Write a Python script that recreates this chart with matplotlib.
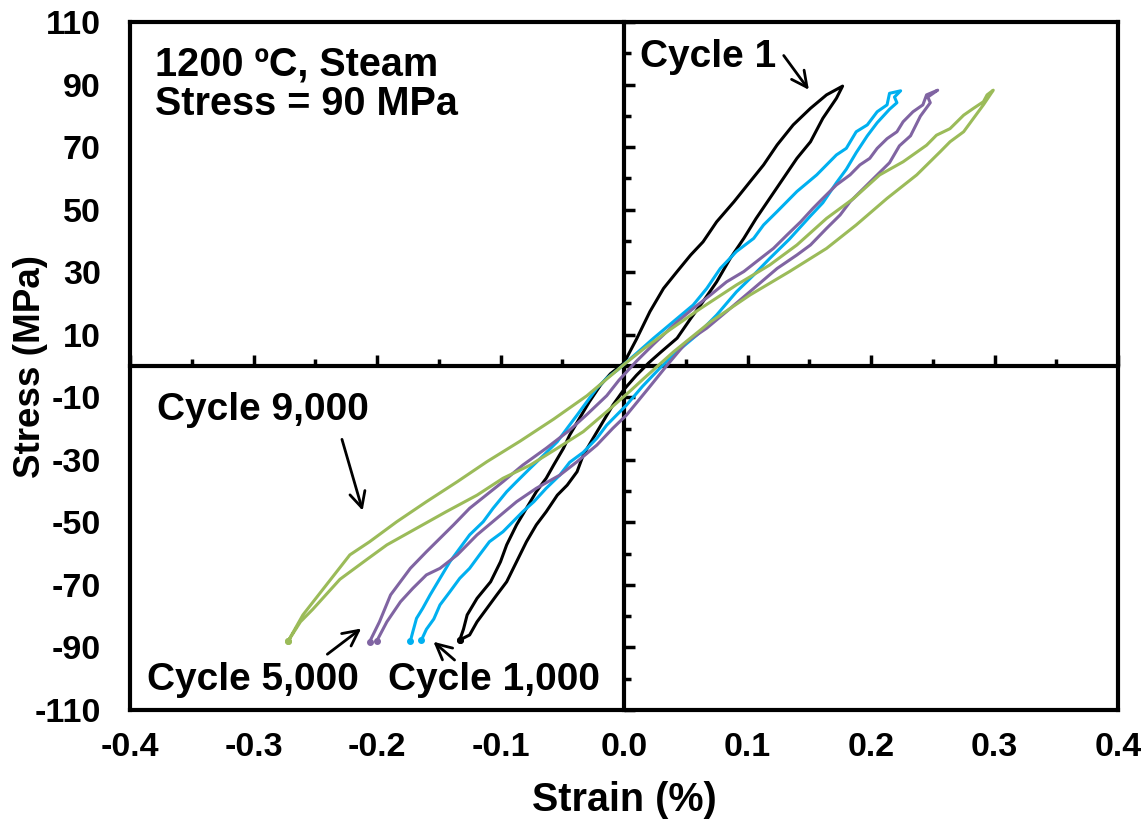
import numpy as np
import matplotlib
matplotlib.use("Agg")
import matplotlib.pyplot as plt
from matplotlib.ticker import MultipleLocator

plt.rcParams['font.family'] = ['Liberation Sans', 'DejaVu Sans']
plt.rcParams['font.weight'] = 'bold'
plt.rcParams['axes.unicode_minus'] = False

# Cycle 1 (black): loading branch bottom->top, then unloading top->bottom
c1_up_x = [-0.133, -0.125, -0.119, -0.111, -0.103, -0.095, -0.087, -0.079, -0.071, -0.063, -0.054, -0.046,
           -0.038, -0.033, -0.025, -0.017, -0.009, 0.000, 0.010, 0.020, 0.030, 0.043, 0.054, 0.064, 0.075,
           0.086, 0.097, 0.107, 0.118, 0.129, 0.140, 0.151, 0.161, 0.172, 0.177]
c1_up_y = [-87.6, -86.0, -81.8, -77.5, -73.2, -69.0, -62.6, -56.2, -50.8, -46.6, -41.3, -38.1,
           -33.8, -28.5, -23.1, -17.8, -12.5, -7.5, -3.0, 1.0, 4.5, 8.9, 15.2, 20.6, 26.9,
           34.4, 40.8, 47.2, 53.6, 60.0, 66.4, 71.7, 79.2, 85.6, 89.5]
c1_dn_x = [0.177, 0.164, 0.151, 0.137, 0.124, 0.113, 0.102, 0.089, 0.075, 0.064, 0.054, 0.043, 0.032,
           0.021, 0.010, 0.000, -0.011, -0.019, -0.028, -0.036, -0.044, -0.049, -0.057, -0.063, -0.071,
           -0.079, -0.087, -0.095, -0.100, -0.108, -0.119, -0.127, -0.130, -0.133]
c1_dn_y = [89.5, 86.7, 82.4, 77.1, 70.7, 64.3, 58.9, 52.5, 46.1, 39.7, 35.5, 30.2, 24.8,
           17.4, 8.5, 1.0, -2.5, -6.1, -11.4, -16.7, -22.1, -26.3, -31.7, -35.9, -40.2,
           -45.5, -50.8, -57.2, -62.6, -69.0, -74.3, -79.6, -84.2, -87.6]

# Cycle 1,000 (blue)
c1k_up_x = [-0.164, -0.160, -0.154, -0.149, -0.141, -0.133, -0.125, -0.117, -0.109, -0.098, -0.090, -0.082,
            -0.073, -0.063, -0.052, -0.044, -0.033, -0.022, -0.014, -0.006, 0.002, 0.015, 0.029, 0.043,
            0.059, 0.075, 0.091, 0.105, 0.118, 0.134, 0.151, 0.161, 0.172, 0.180, 0.188, 0.197, 0.205,
            0.215, 0.221, 0.219, 0.224]
c1k_up_y = [-87.6, -84.2, -80.9, -76.4, -72.2, -67.9, -64.7, -60.4, -56.2, -53.0, -49.8, -46.6,
            -43.4, -39.1, -34.9, -30.8, -27.6, -23.1, -18.9, -15.7, -12.5, -6.5, -0.7, 4.6,
            9.9, 16.3, 23.7, 29.1, 34.4, 40.6, 48.0, 52.2, 58.6, 62.9, 68.2, 73.6, 77.8,
            82.1, 84.2, 86.0, 88.0]
c1k_dn_x = [0.224, 0.215, 0.213, 0.205, 0.197, 0.188, 0.180, 0.172, 0.156, 0.140, 0.124, 0.113, 0.105,
            0.091, 0.078, 0.067, 0.056, 0.043, 0.024, 0.010, -0.005, -0.014, -0.022, -0.030, -0.038,
            -0.046, -0.054, -0.065, -0.076, -0.087, -0.095, -0.106, -0.114, -0.125, -0.133, -0.141,
            -0.149, -0.157, -0.163, -0.168, -0.171, -0.173]
c1k_dn_y = [88.0, 87.2, 83.5, 81.3, 77.1, 74.9, 69.6, 67.5, 61.1, 55.8, 49.4, 45.1, 40.8,
            36.6, 31.2, 24.8, 19.5, 15.2, 8.9, 4.0, -1.2, -3.9, -7.1, -11.4, -15.7,
            -19.9, -24.2, -28.5, -32.7, -37.0, -40.2, -45.5, -49.8, -54.0, -58.3, -62.6,
            -67.9, -73.2, -77.5, -80.7, -85.0, -88.0]

# Cycle 5,000 (purple)
c5k_up_x = [-0.200, -0.192, -0.181, -0.171, -0.160, -0.149, -0.135, -0.119, -0.103, -0.087, -0.071, -0.052,
            -0.038, -0.022, -0.009, 0.002, 0.018, 0.035, 0.051, 0.067, 0.083, 0.105, 0.124, 0.140,
            0.151, 0.164, 0.175, 0.183, 0.194, 0.205, 0.215, 0.223, 0.232, 0.240, 0.248, 0.246, 0.254]
c5k_up_y = [-87.8, -81.8, -75.4, -71.1, -66.8, -64.7, -60.4, -54.0, -48.7, -43.4, -39.1, -34.9,
            -30.6, -25.3, -19.9, -15.7, -8.0, 0.3, 7.8, 12.1, 17.4, 24.8, 31.2, 35.5,
            38.7, 44.0, 48.3, 52.5, 56.8, 61.1, 65.0, 70.4, 73.6, 79.9, 84.2, 86.0, 88.2]
c5k_dn_x = [0.254, 0.245, 0.242, 0.234, 0.226, 0.221, 0.213, 0.205, 0.199, 0.191, 0.183, 0.172, 0.161,
            0.153, 0.143, 0.132, 0.121, 0.107, 0.097, 0.083, 0.070, 0.056, 0.043, 0.024, 0.010,
            -0.004, -0.014, -0.030, -0.044, -0.063, -0.082, -0.098, -0.125, -0.138, -0.160, -0.173,
            -0.189, -0.198, -0.206]
c5k_dn_y = [88.2, 86.7, 83.5, 81.3, 78.1, 74.9, 72.7, 69.6, 66.4, 64.3, 61.1, 57.9, 53.6,
            50.4, 46.1, 41.9, 37.6, 33.3, 30.2, 26.9, 22.7, 18.4, 14.1, 7.0, 1.5,
            -4.5, -9.5, -15.5, -20.5, -26.3, -31.7, -37.0, -45.5, -50.8, -59.4, -64.7,
            -73.2, -81.8, -88.2]

# Cycle 9,000 (green)
c9k_up_x = [-0.272, -0.262, -0.252, -0.230, -0.208, -0.192, -0.168, -0.144, -0.119, -0.098, -0.076, -0.054,
            -0.033, -0.014, 0.005, 0.016, 0.040, 0.070, 0.102, 0.134, 0.164, 0.188, 0.213, 0.237,
            0.256, 0.264, 0.275, 0.283, 0.291, 0.299]
c9k_up_y = [-88.0, -81.8, -77.8, -68.2, -61.8, -57.2, -51.9, -46.6, -41.3, -35.9, -31.7, -26.3,
            -21.0, -14.6, -8.0, -4.0, 4.5, 14.1, 22.7, 30.2, 37.6, 45.1, 53.6, 61.1,
            68.5, 71.7, 74.9, 79.2, 83.5, 88.2]
c9k_dn_x = [0.299, 0.294, 0.291, 0.283, 0.275, 0.264, 0.253, 0.245, 0.226, 0.207, 0.186, 0.164, 0.140,
            0.118, 0.091, 0.062, 0.035, 0.016, 0.000, -0.030, -0.057, -0.084, -0.111, -0.135, -0.160,
            -0.184, -0.206, -0.222, -0.241, -0.260, -0.272]
c9k_dn_y = [88.2, 86.7, 84.5, 82.4, 80.2, 75.9, 73.8, 70.6, 65.3, 61.1, 53.6, 47.2, 38.7,
            32.3, 25.9, 18.4, 11.0, 5.5, 0.5, -9.5, -17.0, -24.0, -30.6, -37.0, -43.4,
            -49.8, -56.2, -60.4, -70.0, -79.6, -88.0]

x_ticks = [-0.4, -0.3, -0.2, -0.1, 0.0, 0.1, 0.2, 0.3, 0.4]
y_ticks = [-110, -90, -70, -50, -30, -10, 10, 30, 50, 70, 90, 110]

fig = plt.figure(figsize=(11.43, 8.27), dpi=100)
pos = [130 / 1143, 117 / 827, 988 / 1143, 688 / 827]

# outer frame with the tick labels
ax0 = fig.add_axes(pos)
ax0.set_xlim(-0.4, 0.4)
ax0.set_ylim(-110, 110)
ax0.set_xticks(x_ticks)
ax0.set_xticklabels(['%.1f' % v for v in x_ticks])
ax0.set_yticks(y_ticks)
ax0.set_yticklabels([str(v) for v in y_ticks])
ax0.tick_params(length=0, labelsize=24.5)
ax0.tick_params(axis='x', pad=16)
ax0.tick_params(axis='y', pad=21)
for s in ax0.spines.values():
    s.set_linewidth(3)

# axes crossing at zero, with the data
ax = fig.add_axes(pos)
ax.patch.set_alpha(0)
ax.set_xlim(-0.4, 0.4)
ax.set_ylim(-110, 110)
ax.spines['left'].set_position(('data', 0))
ax.spines['bottom'].set_position(('data', 0))
ax.spines['top'].set_visible(False)
ax.spines['right'].set_visible(False)
for s in ['left', 'bottom']:
    ax.spines[s].set_linewidth(3)
ax.xaxis.set_major_locator(MultipleLocator(0.1))
ax.xaxis.set_minor_locator(MultipleLocator(0.05))
ax.set_yticks(y_ticks)
ax.yaxis.set_minor_locator(MultipleLocator(10))
ax.tick_params(which='both', direction='in', width=2.5, labelbottom=False, labelleft=False)
ax.tick_params(which='major', length=8)
ax.tick_params(which='minor', length=5)

loops = [
    (c1_up_x + c1_dn_x, c1_up_y + c1_dn_y, 'black'),
    (c1k_up_x + c1k_dn_x, c1k_up_y + c1k_dn_y, '#00B0F0'),
    (c5k_up_x + c5k_dn_x, c5k_up_y + c5k_dn_y, '#8064A2'),
    (c9k_up_x + c9k_dn_x, c9k_up_y + c9k_dn_y, '#9BBB59'),
]
for lx, ly, col in loops:
    ax.plot(lx, ly, color=col, lw=2.2, zorder=3, solid_joinstyle='round', solid_capstyle='round')
    ax.plot([lx[0], lx[-1]], [ly[0], ly[-1]], 'o', color=col, ms=4, zorder=3)

ax.text(-0.380, 102.5, '1200 ºC, Steam\nStress = 90 MPa', fontsize=28.5, ha='left', va='top', linespacing=1.05)

arrow = dict(arrowstyle='->', lw=2, color='black', mutation_scale=28)
ax.text(0.013, 98.8, 'Cycle 1', fontsize=28, ha='left', va='center')
ax.annotate('', xy=(0.151, 87.6), xytext=(0.128, 100.0), arrowprops=arrow)
ax.text(-0.378, -14.1, 'Cycle 9,000', fontsize=28, ha='left', va='center')
ax.annotate('', xy=(-0.211, -47.1), xytext=(-0.229, -22.6), arrowprops=arrow)
ax.text(-0.386, -100.4, 'Cycle 5,000', fontsize=28, ha='left', va='center')
ax.annotate('', xy=(-0.211, -83.4), xytext=(-0.242, -92.7), arrowprops=arrow)
ax.text(-0.191, -100.4, 'Cycle 1,000', fontsize=28, ha='left', va='center')
ax.annotate('', xy=(-0.156, -87.6), xytext=(-0.1355, -94.6), arrowprops=arrow)

fig.text(624 / 1143, 1 - 800 / 827, 'Strain (%)', fontsize=28.5, ha='center', va='center')
fig.text(31 / 1143, 1 - 367 / 827, 'Stress (MPa)', fontsize=26.5, ha='center', va='center', rotation=90)

fig.savefig('out.png', dpi=100)
